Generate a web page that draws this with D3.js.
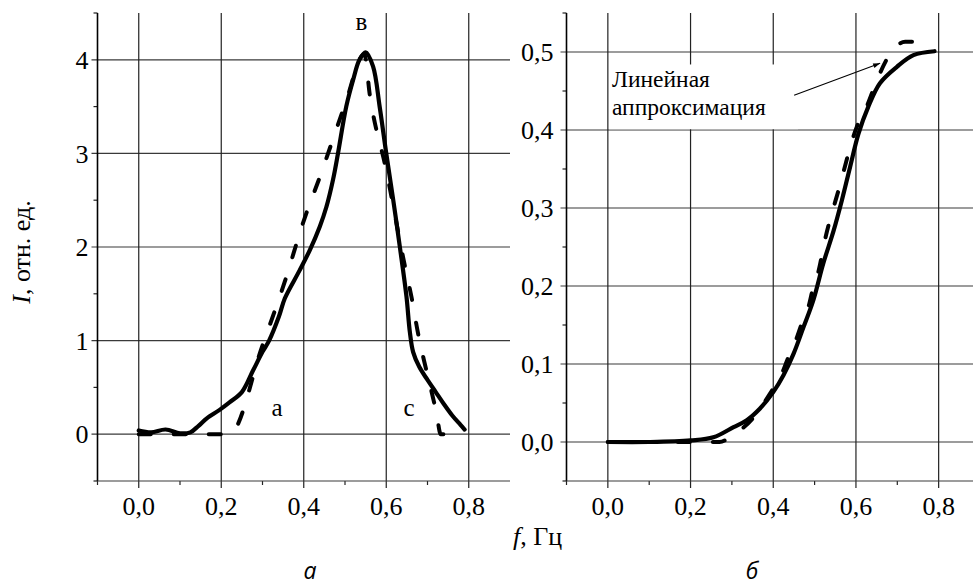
<!DOCTYPE html>
<html><head><meta charset="utf-8">
<script src="https://cdn.jsdelivr.net/npm/d3@7"></script>
<style>
body{margin:0;background:#fff}
svg{display:block}
text{font-family:"Liberation Serif","Times New Roman",serif;fill:#000}
</style>
</head><body>
<svg id="c" width="973" height="588"></svg>
<script>
// ---------- data ----------
const xMajor = [0, 0.2, 0.4, 0.6, 0.8];
const xMinor = [-0.1, 0.1, 0.3, 0.5, 0.7];

const leftYMajor = [0, 1, 2, 3, 4];
const leftYMinor = [-0.5, 0.5, 1.5, 2.5, 3.5, 4.5];
const rightYMajor = [0, 0.1, 0.2, 0.3, 0.4, 0.5];
const rightYMinor = [-0.05, 0.05, 0.15, 0.25, 0.35, 0.45, 0.55];

// panel а: solid (measured) curve
const leftSolidF = [0,0.03,0.065,0.10,0.125,0.145,0.165,0.196,0.22,0.25,0.277,0.30,0.316,0.34,0.354,0.39,0.415,0.439,0.455,0.471,0.483,0.503,0.52,0.535,0.55,0.568,0.584,0.60,0.617,0.633,0.649,0.657,0.665,0.68,0.70,0.72,0.74,0.76,0.78,0.79];
const leftSolidI = [0.04,0.02,0.05,0.01,0.02,0.09,0.17,0.26,0.34,0.45,0.68,0.88,1.0,1.26,1.45,1.75,1.97,2.22,2.43,2.72,3.0,3.5,3.79,4.0,4.08,3.93,3.5,3.0,2.5,2.0,1.47,1.1,0.88,0.72,0.58,0.45,0.32,0.2,0.1,0.05];
// panel а: dashed (approximation) curve
const leftDashF = [0,0.22,0.3,0.354,0.4,0.44,0.5,0.547,0.56,0.6,0.645,0.661,0.677,0.693,0.709,0.722,0.732,0.76];
const leftDashI = [0,0,0.95,1.63,2.28,2.76,3.52,4.06,3.63,2.82,1.8,1.47,1.08,0.76,0.47,0.22,0.0,0];

// panel б: solid curve
const rightSolidF = [0,0.1,0.2,0.255,0.304,0.336,0.368,0.4,0.425,0.449,0.473,0.497,0.521,0.546,0.566,0.586,0.606,0.63,0.658,0.699,0.739,0.79];
const rightSolidI = [0,0,0.002,0.006,0.019,0.028,0.043,0.064,0.086,0.113,0.147,0.182,0.229,0.271,0.31,0.353,0.395,0.43,0.46,0.481,0.496,0.501];
// panel б: dashed (linear approximation)
const rightDashF = [0,0.27,0.3,0.35,0.397,0.417,0.437,0.453,0.469,0.485,0.497,0.509,0.525,0.558,0.602,0.626,0.654,0.683,0.719,0.79];
const rightDashI = [0,0,0.008,0.03,0.066,0.083,0.109,0.128,0.152,0.173,0.199,0.218,0.259,0.323,0.404,0.43,0.468,0.498,0.513,0.513];

const peakLabels = [{t:"а", f:0.335, i:0.19}, {t:"в", f:0.54, i:4.32}, {t:"с", f:0.655, i:0.19}];
const yTitle = "I, отн. ед.";
const xTitle = "f, Гц";
const panelNames = ["а", "б"];
const noteLines = ["Линейная", "аппроксимация"];

// ---------- drawing ----------
const SERIF = '"Liberation Serif","Times New Roman",serif';
const svg = d3.select("#c");
svg.append("rect").attr("width",973).attr("height",588).attr("fill","#fff");

const comma = v => d3.format(".1f")(v).replace(".", ",");
const GRID = "#3a3a3a";

function panel(cfg) {
  const x = d3.scaleLinear().domain([-0.1, 0.9]).range(cfg.xr);
  const y = d3.scaleLinear().domain(cfg.yd).range([481, 13]);
  const g = svg.append("g");

  // grid
  g.selectAll(".hg").data(cfg.yMajor).join("line")
    .attr("x1", x(-0.1) - 6).attr("x2", x(0.9))
    .attr("y1", d => y(d)).attr("y2", d => y(d))
    .attr("stroke", GRID).attr("stroke-width", 1.2);
  g.selectAll(".vg").data(xMajor).join("line")
    .attr("x1", d => x(d)).attr("x2", d => x(d))
    .attr("y1", y(cfg.yd[0]) + 7).attr("y2", y(cfg.yd[1]))
    .attr("stroke", "#222").attr("stroke-width", 1.2);
  // minor ticks
  g.selectAll(".mx").data(xMinor).join("line")
    .attr("x1", d => x(d)).attr("x2", d => x(d))
    .attr("y1", y(cfg.yd[0])).attr("y2", y(cfg.yd[0]) + 4)
    .attr("stroke", "#222").attr("stroke-width", 1.2);
  g.selectAll(".my").data(cfg.yMinor).join("line")
    .attr("x1", x(-0.1) - 4).attr("x2", x(-0.1))
    .attr("y1", d => y(d)).attr("y2", d => y(d))
    .attr("stroke", "#222").attr("stroke-width", 1.2);
  // axes lines
  g.append("line").attr("x1", x(-0.1)).attr("x2", x(-0.1))
    .attr("y1", y(cfg.yd[0])).attr("y2", y(cfg.yd[1]))
    .attr("stroke", "#000").attr("stroke-width", 1.6);
  g.append("line").attr("x1", x(-0.1)).attr("x2", x(0.9))
    .attr("y1", y(cfg.yd[0])).attr("y2", y(cfg.yd[0]))
    .attr("stroke", GRID).attr("stroke-width", 1.2);

  // tick labels
  g.selectAll(".yl").data(cfg.yMajor).join("text")
    .attr("x", x(-0.1) - cfg.labelGap).attr("y", d => y(d))
    .attr("dy", "0.35em").attr("text-anchor", "end")
    .style("font-family", SERIF)
    .attr("font-size", 26).text(cfg.yFmt);
  g.selectAll(".xl").data(xMajor).join("text")
    .attr("x", d => x(d)).attr("y", 515)
    .style("font-family", SERIF)
    .attr("text-anchor", "middle").attr("font-size", 26).text(comma);

  // curves
  const toPts = (F, I) => F.map((f, k) => [f, I[k]]);
  g.append("path").datum(toPts(cfg.sF, cfg.sI))
    .attr("d", d3.line().x(d => x(d[0])).y(d => y(d[1])).curve(d3.curveCatmullRom.alpha(0.5)))
    .attr("fill", "none").attr("stroke", "#000").attr("stroke-width", 4.2)
    .attr("stroke-linejoin", "round").attr("stroke-linecap", "round");
  g.append("path").datum(toPts(cfg.dF, cfg.dI))
    .attr("d", d3.line().x(d => x(d[0])).y(d => y(d[1])).curve(d3.curveMonotoneX))
    .attr("fill", "none").attr("stroke", "#000").attr("stroke-width", 4)
    .attr("stroke-dasharray", "12,23").attr("stroke-linecap", "round");

  return {x, y, g};
}

const L = panel({
  xr: [97.5, 510], yd: [-0.5, 4.5], yMajor: leftYMajor, yMinor: leftYMinor,
  yFmt: d => String(d), labelGap: 9,
  sF: leftSolidF, sI: leftSolidI, dF: leftDashF, dI: leftDashI
});
const R = panel({
  xr: [566.5, 980], yd: [-0.05, 0.55], yMajor: rightYMajor, yMinor: rightYMinor,
  yFmt: comma, labelGap: 13,
  sF: rightSolidF, sI: rightSolidI, dF: rightDashF, dI: rightDashI
});

// peak labels on panel а
L.g.selectAll(".pk").data(peakLabels).join("text")
  .attr("x", d => L.x(d.f)).attr("y", d => L.y(d.i))
  .style("font-family", SERIF)
  .attr("text-anchor", "middle").attr("font-size", 25).text(d => d.t);

// annotation on panel б
R.g.append("rect")
  .attr("x", R.x(0.003)).attr("y", R.y(0.484))
  .attr("width", R.x(0.46) - R.x(0.003)).attr("height", R.y(0.401) - R.y(0.484))
  .attr("fill", "#fff");
R.g.selectAll(".nt").data(noteLines).join("text")
  .attr("x", R.x(0.01)).attr("y", (d, k) => R.y(k === 0 ? 0.455 : 0.419))
  .style("font-family", SERIF)
  .attr("font-size", 23.5).text(d => d);
svg.append("defs").append("marker").attr("id", "ah")
  .attr("viewBox", "0 0 10 10").attr("refX", 10).attr("refY", 5)
  .attr("markerWidth", 9).attr("markerHeight", 7).attr("orient", "auto")
  .attr("markerUnits", "userSpaceOnUse")
  .append("path").attr("d", "M0,1.5 L10,5 L0,8.5 Z").attr("fill", "#000");
R.g.append("line")
  .attr("x1", R.x(0.4505)).attr("y1", R.y(0.4445))
  .attr("x2", R.x(0.6585)).attr("y2", R.y(0.4855))
  .attr("stroke", "#000").attr("stroke-width", 1.1).attr("marker-end", "url(#ah)");

// axis titles
const yt = svg.append("text").attr("transform", "translate(30,252) rotate(-90)")
  .style("font-family", SERIF)
  .attr("text-anchor", "middle").attr("font-size", 26);
yt.append("tspan").attr("font-style", "italic").text(yTitle.slice(0, 1));
yt.append("tspan").text(yTitle.slice(1));
const xt = svg.append("text").attr("x", 513).attr("y", 545)
  .style("font-family", SERIF).attr("font-size", 26);
xt.append("tspan").attr("font-style", "italic").text(xTitle.slice(0, 1));
xt.append("tspan").text(xTitle.slice(1));

// panel names
svg.selectAll(".pn").data(panelNames).join("text")
  .attr("x", (d, k) => k === 0 ? 310 : 752).attr("y", 579)
  .attr("text-anchor", "middle").attr("font-size", 23)
  .style("font-family", "'Open Sans', sans-serif").style("font-style", "italic")
  .text(d => d);
</script>
</body></html>
